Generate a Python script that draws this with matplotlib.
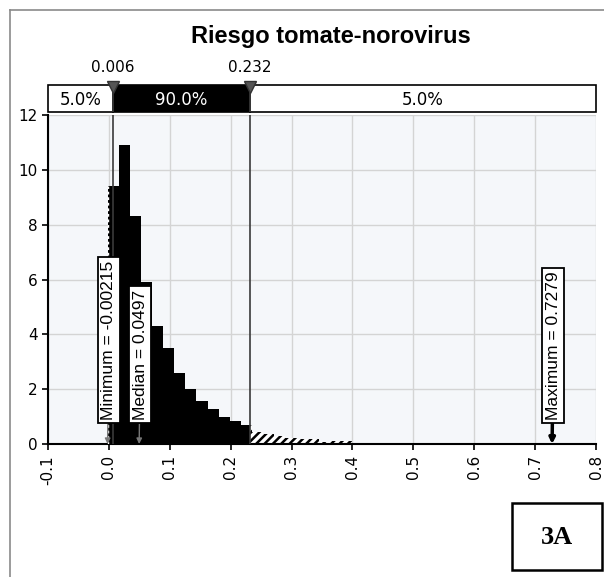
import numpy as np
import matplotlib
matplotlib.use("Agg")
import matplotlib.pyplot as plt
from matplotlib.patches import Rectangle
from matplotlib.lines import Line2D

# ---------------- data ----------------
title = "Riesgo tomate-norovirus"
bin_min = -0.00215
bin_max = 0.7279
n_bins = 40
heights = [9.4, 10.9, 8.3, 5.92, 4.3, 3.5, 2.58, 2.0, 1.58, 1.27, 0.97, 0.85, 0.68,
           0.45, 0.38, 0.30, 0.22, 0.18, 0.17, 0.06, 0.10, 0.12, 0.04,
           0.03, 0.03, 0.02, 0.03, 0.02, 0.02, 0.02, 0.02, 0.02, 0.01, 0.02,
           0.01, 0.01, 0.01, 0.01, 0.01, 0.01]
p_low = 0.006
p_high = 0.232
band_labels = ["5.0%", "90.0%", "5.0%"]
median = 0.0497
stat_labels = ["Minimum = -0.00215", "Median = 0.0497", "Maximum = 0.7279"]
stat_values = [bin_min, median, bin_max]
xticks = [-0.1, 0.0, 0.1, 0.2, 0.3, 0.4, 0.5, 0.6, 0.7, 0.8]
xtick_labels = ["-0.1", "0.0", "0.1", "0.2", "0.3", "0.4", "0.5", "0.6", "0.7", "0.8"]
yticks = [0, 2, 4, 6, 8, 10, 12]
panel_label = "3A"

W, H = 604, 577
plt.rcParams['hatch.linewidth'] = 1.8
fig = plt.figure(figsize=(W / 100, H / 100), dpi=100, facecolor='white')

def fx(px):
    return px / W

def fy(py):
    return 1 - py / H

# main axes
ax = fig.add_axes([fx(48), fy(444), fx(596) - fx(48), fy(115) - fy(444)])
ax.set_facecolor('#f5f7fa')
ax.set_xlim(-0.1, 0.8)
ax.set_ylim(0, 12)

edges = np.linspace(bin_min, bin_max, n_bins + 1)
for k, h in enumerate(heights):
    lo, hi = edges[k], edges[k + 1]
    if lo < p_high:
        right = min(hi, p_high)
        ax.bar(lo, h, width=right - lo, align='edge', color='black',
               linewidth=0, zorder=2)
    if hi > p_high:
        left = max(lo, p_high)
        ax.bar(left, h, width=hi - left, align='edge', facecolor='white',
               edgecolor='black', hatch='////', linewidth=0, zorder=2)

# dashed left edge of first bar
ax.vlines(bin_min + 0.0004, 0, heights[0], colors='white', linestyles=(0, (2, 2)),
          lw=1, zorder=3)

# percentile lines
for v in (p_low, p_high):
    ax.axvline(v, color='#3a3a3a', lw=1.2, zorder=3)

ax.set_xticks(xticks)
ax.set_xticklabels(xtick_labels, rotation=90, fontsize=11, family='DejaVu Sans')
ax.set_yticks(yticks)
ax.set_yticklabels([str(t) for t in yticks], fontsize=11, family='DejaVu Sans')
ax.tick_params(axis='both', direction='out', length=4, width=1.2, color='black')
ax.tick_params(axis='x', pad=4)
ax.grid(True, color='#d4d4d4', lw=1, zorder=0)
ax.set_axisbelow(True)
for s in ('top', 'right'):
    ax.spines[s].set_visible(False)
for s in ('left', 'bottom'):
    ax.spines[s].set_linewidth(1.5)

# stat annotations
arrow_styles = [dict(color='#777777', lw=1.0), dict(color='#777777', lw=1.0),
                dict(color='black', lw=2.5)]
for lab, val, st in zip(stat_labels, stat_values, arrow_styles):
    ax.annotate(lab, xy=(val, 0), xytext=(val + 0.002, 0.88), textcoords='data',
                rotation=90, ha='center', va='bottom', fontsize=12.5,
                family='Liberation Sans', zorder=6,
                bbox=dict(boxstyle='square,pad=0.2', fc='white', ec='black', lw=1.3),
                arrowprops=dict(arrowstyle='-|>', mutation_scale=8,
                                shrinkA=0, shrinkB=0, **st))

# band axes
bax = fig.add_axes([fx(48), fy(112), fx(596) - fx(48), fy(85) - fy(112)])
bax.set_xlim(-0.1, 0.8)
bax.set_ylim(0, 1)
bax.axis('off')
segs = [(-0.1, p_low, 'white', 'black'), (p_low, p_high, 'black', 'white'),
        (p_high, 0.8, 'white', 'black')]
for (a, b, fc, tc), lab in zip(segs, band_labels):
    bax.add_patch(Rectangle((a, 0), b - a, 1, fc=fc, ec='black', lw=1.2,
                            clip_on=False))
    bax.text((a + b) / 2, 0.45, lab, color=tc, ha='center', va='center',
             fontsize=12, family='DejaVu Sans')
for v in (p_low, p_high):
    bax.plot([v], [0.92], marker='v', color='#555555', markersize=9,
             markeredgecolor='#333333', clip_on=False, zorder=5)
    bax.axvline(v, color='#3a3a3a', lw=1.2)
    bax.text(v, 1.65, f"{v:.3f}", ha='center', va='center', fontsize=11,
             family='DejaVu Sans')

# title
fig.text(fx(331), fy(36), title, ha='center', va='center', fontsize=17,
         fontweight='bold', family='Liberation Sans')

# figure border
fig.add_artist(Line2D([fx(10), fx(10)], [0, fy(10)], color='#8a8a8a', lw=1.2,
                      transform=fig.transFigure))
fig.add_artist(Line2D([fx(10), 1], [fy(10), fy(10)], color='#8a8a8a', lw=1.2,
                      transform=fig.transFigure))

# panel label box
fig.add_artist(Rectangle((fx(512), fy(570)), fx(602) - fx(512), fy(503) - fy(570),
                         transform=fig.transFigure, fc='white', ec='black', lw=1.8))
fig.text(fx(557), fy(538), panel_label, ha='center', va='center', fontsize=19,
         fontweight='bold', family='Liberation Serif')

fig.savefig('out.png', dpi=100, facecolor='white')
